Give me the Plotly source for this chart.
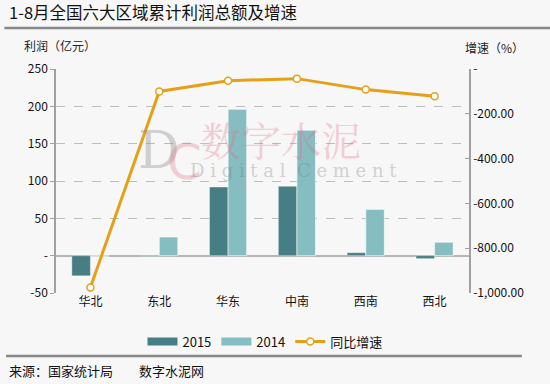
import plotly.graph_objects as go

regions = ["华北", "东北", "华东", "中南", "西南", "西北"]
profit_2015 = [-27, -1, 92, 93, 4, -4]
profit_2014 = [-1, 25, 196, 168, 62, 18]
growth = [-975, -100, -52, -43, -92, -122]

left_ticks = [250, 200, 150, 100, 50, 0, -50]
left_text = ["250", "200", "150", "100", "50", "-", "-50"]
right_ticks = [0, -200, -400, -600, -800, -1000]
right_text = ["-", "-200.00", "-400.00", "-600.00", "-800.00", "-1,000.00"]

BG = "#F7F7F7"
FONT = "Noto Sans CJK SC"
C15 = "#477E83"
C14 = "#86BDC1"
CL = "#E5A01A"

fig = go.Figure()
fig.add_trace(go.Bar(x=regions, y=profit_2015, name="2015", showlegend=False,
                     marker=dict(color=C15, line=dict(color="rgba(255,255,255,0.4)", width=1))))
fig.add_trace(go.Bar(x=regions, y=profit_2014, name="2014", showlegend=False,
                     marker=dict(color=C14, line=dict(color="rgba(255,255,255,0.6)", width=1))))
# legend entries shaped like the reference (wide flat rectangles)
fig.add_trace(go.Scatter(x=[None], y=[None], name="2015", mode="lines",
                         line=dict(color=C15, width=8)))
fig.add_trace(go.Scatter(x=[None], y=[None], name="2014", mode="lines",
                         line=dict(color=C14, width=8)))
fig.add_trace(go.Scatter(x=regions, y=growth, name="同比增速", yaxis="y2",
                         mode="lines+markers",
                         line=dict(color=CL, width=3),
                         marker=dict(size=7, color="white", line=dict(color=CL, width=1.5))))

fig.update_layout(
    width=550, height=384,
    paper_bgcolor=BG, plot_bgcolor=BG,
    margin=dict(l=56, r=81, t=69, b=91),
    font=dict(family=FONT, size=12, color="#222"),
    barmode="group", bargap=0.46, bargroupgap=0,
    showlegend=True,
    legend=dict(orientation="h", x=0.506, xanchor="center", y=-0.15, yanchor="top",
                font=dict(size=13, color="#111"), bgcolor="rgba(0,0,0,0)",
                itemwidth=30, tracegroupgap=0),
    xaxis=dict(showgrid=False, showline=False, ticks="", tickfont=dict(size=12, color="#111")),
    yaxis=dict(range=[-50, 250], tickvals=left_ticks, ticktext=left_text,
               showgrid=True, gridcolor="#BDBDBD", griddash="dash", gridwidth=1,
               zeroline=True, zerolinecolor="#B5B5B5", zerolinewidth=2,
               showline=True, linecolor="#A0A0A0", linewidth=1.5,
               ticks="outside", ticklen=4, tickcolor="#A0A0A0",
               tickfont=dict(size=12, color="#111")),
    yaxis2=dict(range=[-1000, 0], overlaying="y", side="right",
                tickvals=right_ticks, ticktext=right_text,
                showgrid=False, zeroline=False,
                showline=True, linecolor="#A0A0A0", linewidth=1.5,
                ticks="inside", ticklen=4, tickcolor="#A0A0A0",
                tickfont=dict(size=12, color="#111")),
    shapes=[
        dict(type="line", xref="paper", yref="paper", x0=-0.125, x1=1.2, y0=1.183, y1=1.183,
             line=dict(color="#888888", width=2.5)),
        dict(type="line", xref="paper", yref="paper", x0=-0.121, x1=1.128, y0=-0.281, y1=-0.281,
             line=dict(color="#888888", width=2.5)),
    ],
    annotations=[
        dict(text="1-8月全国六大区域累计利润总额及增速", xref="paper", yref="paper",
             x=-0.118, y=1.256, xanchor="left", yanchor="middle", showarrow=False,
             font=dict(size=16.5, color="#111", family=FONT)),
        dict(text="利润（亿元）", xref="paper", yref="paper", x=-0.082, y=1.105,
             xanchor="left", yanchor="middle", showarrow=False,
             font=dict(size=12, color="#222")),
        dict(text="增速（%）", xref="paper", yref="paper", x=0.985, y=1.096,
             xanchor="left", yanchor="middle", showarrow=False,
             font=dict(size=12, color="#222")),
        dict(text="来源：国家统计局　　数字水泥网", xref="paper", yref="paper", x=-0.118, y=-0.348,
             xanchor="left", yanchor="middle", showarrow=False,
             font=dict(size=13, color="#111")),
        # watermark
        dict(text="D", xref="paper", yref="paper", x=0.25, y=0.64, xanchor="center", yanchor="middle",
             showarrow=False, opacity=0.35, font=dict(size=52, color="#888888", family="DejaVu Serif")),
        dict(text="C", xref="paper", yref="paper", x=0.31, y=0.585, xanchor="center", yanchor="middle",
             showarrow=False, opacity=0.3, font=dict(size=50, color="#E07080", family="DejaVu Sans")),
        dict(text="数字水泥", xref="paper", yref="paper", x=0.545, y=0.69, xanchor="center", yanchor="middle",
             showarrow=False, opacity=0.3, font=dict(size=40, color="#E07080", family="Noto Serif CJK SC, Noto Sans CJK SC")),
        dict(text="D i g i t a l  C e m e n t", xref="paper", yref="paper", x=0.575, y=0.545,
             xanchor="center", yanchor="middle", showarrow=False, opacity=0.3,
             font=dict(size=18, color="#777777", family="DejaVu Serif")),
    ],
)

fig.write_html("out.html", config={"displayModeBar": False},
               post_script="document.body.style.margin='0px';document.body.style.background='#F7F7F7';")
